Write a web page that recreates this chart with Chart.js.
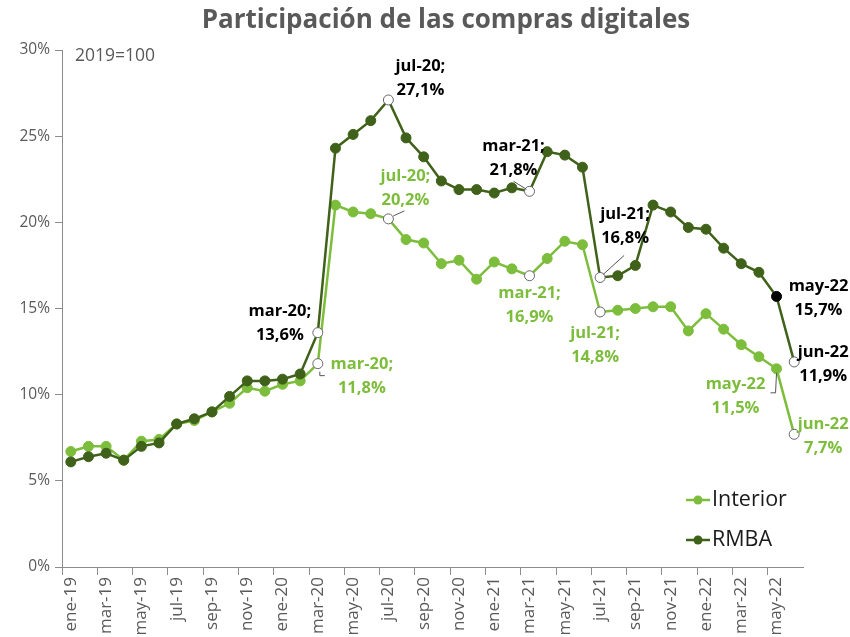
<!DOCTYPE html>
<html>
<head>
<meta charset="utf-8">
<script src="https://cdn.jsdelivr.net/npm/chart.js@4"></script>
<style>
  body { margin: 0; background: #fff; }
  #wrap { width: 850px; height: 637px; position: relative; }
</style>
</head>
<body>
<div id="wrap"><canvas id="chart"></canvas></div>
<script>
const categories = [
  'ene-19', 'feb-19', 'mar-19', 'abr-19', 'may-19', 'jun-19', 'jul-19', 'ago-19', 'sep-19', 'oct-19', 'nov-19', 'dic-19',
  'ene-20', 'feb-20', 'mar-20', 'abr-20', 'may-20', 'jun-20', 'jul-20', 'ago-20', 'sep-20', 'oct-20', 'nov-20', 'dic-20',
  'ene-21', 'feb-21', 'mar-21', 'abr-21', 'may-21', 'jun-21', 'jul-21', 'ago-21', 'sep-21', 'oct-21', 'nov-21', 'dic-21',
  'ene-22', 'feb-22', 'mar-22', 'abr-22', 'may-22', 'jun-22'
];
const interior = [
  6.7, 7.0, 7.0, 6.2, 7.3, 7.4, 8.3, 8.5, 9.0, 9.5, 10.4, 10.2,
  10.6, 10.8, 11.8, 21.0, 20.6, 20.5, 20.2, 19.0, 18.8, 17.6, 17.8, 16.7,
  17.7, 17.3, 16.9, 17.9, 18.9, 18.7, 14.8, 14.9, 15.0, 15.1, 15.1, 13.7,
  14.7, 13.8, 12.9, 12.2, 11.5, 7.7
];
const rmba = [
  6.1, 6.4, 6.6, 6.2, 7.0, 7.2, 8.3, 8.6, 9.0, 9.9, 10.8, 10.8,
  10.9, 11.2, 13.6, 24.3, 25.1, 25.9, 27.1, 24.9, 23.8, 22.4, 21.9, 21.9,
  21.7, 22.0, 21.8, 24.1, 23.9, 23.2, 16.8, 16.9, 17.5, 21.0, 20.6, 19.7,
  19.6, 18.5, 17.6, 17.1, 15.7, 11.9
];
const yTicks = [0, 5, 10, 15, 20, 25, 30];
const hollowIdx = [14, 18, 26, 30, 41];
const blackIdx = { rmba: [40], interior: [] };

const light = '#7dbd3c';
const dark = '#3f6119';
const grey = '#595959';
const axisGrey = '#8c8c8c';
const FONT = '"Open Sans", Lato, sans-serif';

// data label placement (offsets from the point, first line centre)
const notes = [
  { ds: 1, i: 14, dx: -38, dy: -21, semi: true },
  { ds: 0, i: 14, dx: 44, dy: 1, semi: true, leader: [[2, 8], [2, 12], [7, 12]] },
  { ds: 1, i: 18, dx: 32, dy: -34, semi: true },
  { ds: 0, i: 18, dx: 17, dy: -43, semi: true, leader: [[5, -3], [16, -8]] },
  { ds: 1, i: 26, dx: -16, dy: -45, semi: true, leader: [[-16, -10], [-3, -2]] },
  { ds: 0, i: 26, dx: 0, dy: 18, semi: true },
  { ds: 1, i: 30, dx: 25, dy: -63, semi: true, leader: [[3, -3], [24, -22]] },
  { ds: 0, i: 30, dx: -5, dy: 21, semi: true },
  { ds: 1, i: 40, dx: 42, dy: -10, semi: false },
  { ds: 1, i: 41, dx: 29, dy: -10, semi: false },
  { ds: 0, i: 40, dx: -41, dy: 15, semi: false, leader: [[0, 4], [-1, 24], [-6, 24]] },
  { ds: 0, i: 41, dx: 29, dy: -10, semi: false }
];

const fmt = (v) => v.toFixed(1).replace('.', ',') + '%';

const pointFill = (base, key) => (ctx) => {
  if (hollowIdx.includes(ctx.dataIndex)) return '#ffffff';
  if (blackIdx[key].includes(ctx.dataIndex)) return '#000000';
  return base;
};
const pointEdge = (base, key) => (ctx) => {
  if (hollowIdx.includes(ctx.dataIndex)) return '#666666';
  if (blackIdx[key].includes(ctx.dataIndex)) return '#000000';
  return base;
};

const decor = {
  id: 'decor',
  afterDatasetsDraw(chart) {
    const ctx = chart.ctx;
    ctx.save();
    notes.forEach((n) => {
      const pt = chart.getDatasetMeta(n.ds).data[n.i];
      const value = chart.data.datasets[n.ds].data[n.i];
      const color = n.ds === 0 ? light : '#000000';
      if (n.leader) {
        ctx.strokeStyle = '#555555';
        ctx.lineWidth = 1;
        ctx.beginPath();
        n.leader.forEach(([lx, ly], k) => {
          if (k === 0) ctx.moveTo(pt.x + lx, pt.y + ly);
          else ctx.lineTo(pt.x + lx, pt.y + ly);
        });
        ctx.stroke();
      }
      ctx.fillStyle = color;
      ctx.font = 'bold 16.5px ' + FONT;
      ctx.textAlign = 'center';
      ctx.textBaseline = 'middle';
      ctx.fillText(categories[n.i] + (n.semi ? ';' : ''), pt.x + n.dx, pt.y + n.dy);
      ctx.fillText(fmt(value), pt.x + n.dx, pt.y + n.dy + 24);
    });
    ctx.restore();
  },
  afterDraw(chart) {
    const ctx = chart.ctx;
    ctx.save();
    ctx.fillStyle = grey;
    ctx.font = 'bold 26px ' + FONT;
    ctx.textAlign = 'center';
    ctx.textBaseline = 'middle';
    ctx.fillText('Participación de las compras digitales', 446, 21);

    ctx.font = '17.5px ' + FONT;
    ctx.textAlign = 'left';
    ctx.fillText('2019=100', 75, 56);

    const items = [['Interior', light, 500], ['RMBA', dark, 540]];
    items.forEach(([name, col, y]) => {
      ctx.strokeStyle = col;
      ctx.lineWidth = 2.5;
      ctx.beginPath();
      ctx.moveTo(686, y);
      ctx.lineTo(710, y);
      ctx.stroke();
      ctx.fillStyle = col;
      ctx.beginPath();
      ctx.arc(698, y, 4.5, 0, Math.PI * 2);
      ctx.fill();
      ctx.fillStyle = '#1a1a1a';
      ctx.font = '21.5px ' + FONT;
      ctx.fillText(name, 712, y);
    });
    ctx.restore();
  }
};

new Chart(document.getElementById('chart'), {
  type: 'line',
  data: {
    labels: categories,
    datasets: [
      {
        label: 'Interior',
        data: interior,
        borderColor: light,
        borderWidth: 2.5,
        pointRadius: 5,
        pointBorderWidth: 1,
        pointBackgroundColor: pointFill(light, 'interior'),
        pointBorderColor: pointEdge(light, 'interior'),
        order: 1,
        tension: 0
      },
      {
        label: 'RMBA',
        data: rmba,
        borderColor: dark,
        borderWidth: 2.5,
        pointRadius: 5,
        pointBorderWidth: 1,
        pointBackgroundColor: pointFill(dark, 'rmba'),
        pointBorderColor: pointEdge(dark, 'rmba'),
        order: 0,
        tension: 0
      }
    ]
  },
  options: {
    responsive: true,
    maintainAspectRatio: false,
    animation: false,
    layout: { padding: { top: 50, right: 47, left: 0, bottom: 0 } },
    plugins: { legend: { display: false }, tooltip: { enabled: false } },
    scales: {
      x: {
        type: 'category',
        offset: true,
        afterFit: (s) => { s.height = 70; },
        border: { color: axisGrey, width: 1 },
        grid: {
          offset: true,
          drawOnChartArea: false,
          tickLength: 8,
          tickColor: (c) => (c.index % 2 === 0 ? axisGrey : 'rgba(0,0,0,0)')
        },
        ticks: {
          autoSkip: false,
          maxRotation: 90,
          minRotation: 90,
          padding: 2,
          color: grey,
          font: { family: FONT, size: 17 },
          callback: function (v, i) { return i % 2 === 0 ? this.getLabelForValue(v) : ''; }
        }
      },
      y: {
        min: yTicks[0],
        max: yTicks[yTicks.length - 1],
        afterFit: (s) => { s.width = 62; },
        afterBuildTicks: (s) => { s.ticks = yTicks.map((v) => ({ value: v })); },
        border: { color: axisGrey, width: 1 },
        grid: { drawOnChartArea: false, tickLength: 7, tickColor: axisGrey },
        ticks: {
          padding: 5,
          color: grey,
          font: { family: FONT, size: 15.5 },
          callback: (v) => v + '%'
        }
      }
    }
  },
  plugins: [decor]
});
</script>
</body>
</html>
